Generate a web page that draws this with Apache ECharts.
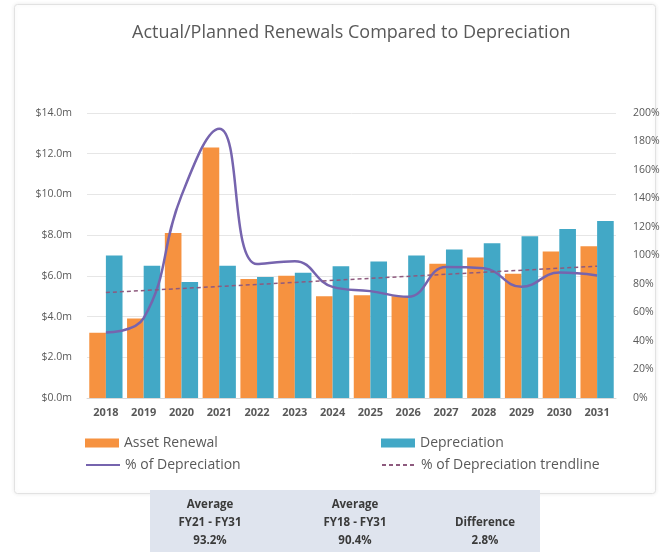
<!DOCTYPE html>
<html><head><meta charset="utf-8">
<script src="https://cdn.jsdelivr.net/npm/echarts@6/dist/echarts.min.js"></script>
<style>html,body{margin:0;padding:0;background:#fff;}#c{width:664px;height:552px;}</style>
</head><body><div id="c"></div>
<script>
var years = ['2018','2019','2020','2021','2022','2023','2024','2025','2026','2027','2028','2029','2030','2031'];
var assetRenewal = [3.2, 3.9, 8.1, 12.3, 5.85, 6.0, 5.0, 5.05, 5.0, 6.6, 6.9, 6.1, 7.2, 7.45];
var depreciation = [7.0, 6.5, 5.7, 6.5, 5.95, 6.15, 6.47, 6.7, 7.0, 7.3, 7.6, 7.95, 8.3, 8.7];
var pctOfDep = [46, 56, 142, 189, 94, 96, 78, 75, 71, 92, 91, 78, 88, 86];
var trendline = [74, null, null, null, null, null, null, null, null, null, null, null, null, 92.5];
var tableCols = [
  ['Average', 'FY21 - FY31', '93.2%'],
  ['Average', 'FY18 - FY31', '90.4%'],
  ['', 'Difference', '2.8%']
];
var FONT = 'Open Sans';
var chart = echarts.init(document.getElementById('c'), null, {renderer: 'canvas'});
var graphics = [
  {type: 'rect', left: 14, top: 4, shape: {width: 641, height: 489, r: 3}, z: -10,
   style: {fill: '#fff', stroke: '#e2e2e2', lineWidth: 1, shadowBlur: 4, shadowColor: 'rgba(0,0,0,0.08)'}},
  {type: 'rect', left: 150, top: 490, shape: {width: 390, height: 62}, z: -5,
   style: {fill: '#dfe4ee'}}
];
var colX = [210, 355, 485];
tableCols.forEach(function (col, i) {
  col.forEach(function (t, j) {
    if (!t) return;
    graphics.push({type: 'text', x: colX[i], y: 505 + j * 18, z: 5,
      style: {text: t, fill: '#3a3a3a', font: 'bold 11.5px "' + FONT + '"', align: 'center', verticalAlign: 'middle'}});
  });
});
var legTxt = {fontFamily: FONT, fontSize: 14, color: '#595959'};
function leg(name, left, top, extra) {
  var l = {left: left, top: top, itemWidth: 34, itemHeight: 9, data: [name], textStyle: legTxt};
  for (var k in extra) l[k] = extra[k];
  return l;
}
var option = {
  backgroundColor: '#fff',
  animation: false,
  textStyle: {fontFamily: FONT},
  title: {text: 'Actual/Planned Renewals Compared to Depreciation', left: 127, top: 19,
    textStyle: {fontFamily: FONT, fontSize: 18, fontWeight: 'normal', color: '#595959'}},
  grid: {left: 87, right: 48, top: 113, bottom: 154},
  legend: [
    leg('Asset Renewal', 80, 431, {icon: 'rect'}),
    leg('Depreciation', 376, 431, {icon: 'rect'}),
    leg('% of Depreciation', 80, 453, {itemStyle: {opacity: 0}}),
    leg('% of Depreciation trendline', 376, 453, {itemStyle: {opacity: 0}})
  ],
  xAxis: {type: 'category', data: years,
    axisLine: {lineStyle: {color: '#d9d9d9'}}, axisTick: {show: false},
    axisLabel: {color: '#595959', fontSize: 11, fontWeight: 'bold', margin: 9}},
  yAxis: [
    {type: 'value', min: 0, max: 14, interval: 2,
     axisLabel: {formatter: function (v) { return '$' + v.toFixed(1) + 'm'; }, color: '#595959', fontSize: 10.5, margin: 15},
     axisLine: {show: false}, axisTick: {show: false},
     splitLine: {lineStyle: {color: '#e6e6e6'}}},
    {type: 'value', min: 0, max: 200, interval: 20,
     axisLabel: {formatter: '{value}%', color: '#595959', fontSize: 10.5, margin: 17},
     axisLine: {show: false}, axisTick: {show: false}, splitLine: {show: false}}
  ],
  series: [
    {name: 'Asset Renewal', type: 'bar', data: assetRenewal, barGap: '0%', barCategoryGap: '12%',
     itemStyle: {color: '#F69240'}},
    {name: 'Depreciation', type: 'bar', data: depreciation,
     itemStyle: {color: '#42A8C6'}},
    {name: '% of Depreciation', type: 'line', yAxisIndex: 1, data: pctOfDep, smooth: 0.45,
     symbol: 'none', lineStyle: {color: '#7664AE', width: 2.5}, itemStyle: {color: '#7664AE'}, z: 5},
    {name: '% of Depreciation trendline', type: 'line', yAxisIndex: 1, data: trendline, connectNulls: true,
     symbol: 'none', lineStyle: {color: '#8E5A7E', width: 1.5, type: [4, 3]}, itemStyle: {color: '#8E5A7E'}, z: 6}
  ],
  graphic: graphics
};
chart.setOption(option);
</script></body></html>
